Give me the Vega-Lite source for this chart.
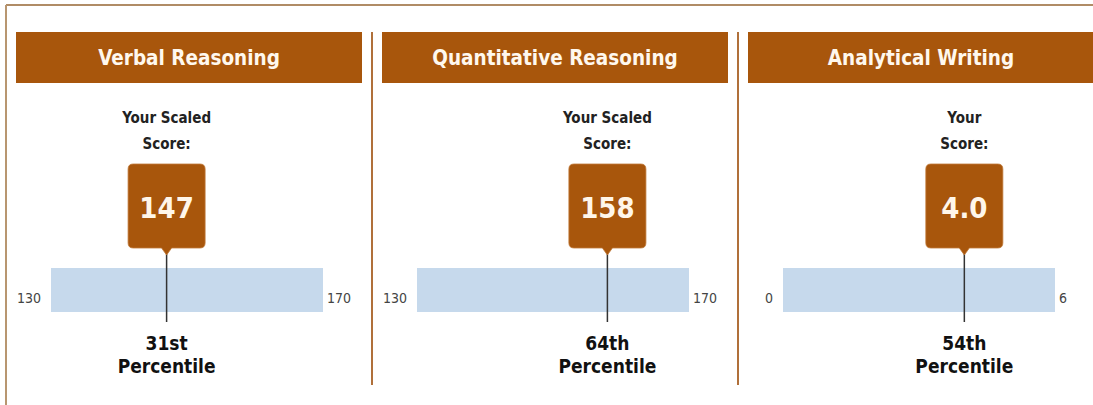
{
  "$schema": "https://vega.github.io/schema/vega-lite/v6.json",
  "padding": {"left": 5, "top": 0, "right": 0, "bottom": 0},
  "background": "white",
  "data": {"values": [
    {"subject": "Verbal Reasoning", "p1": "Your Scaled", "p2": "Score:", "score": 147, "scoreText": "147", "min": 130, "max": 170, "pct": "31st"},
    {"subject": "Quantitative Reasoning", "p1": "Your Scaled", "p2": "Score:", "score": 158, "scoreText": "158", "min": 130, "max": 170, "pct": "64th"},
    {"subject": "Analytical Writing", "p1": "Your", "p2": "Score:", "score": 4.0, "scoreText": "4.0", "min": 0, "max": 6, "pct": "54th"}
  ]},
  "facet": {"column": {"field": "subject", "type": "nominal", "header": null, "sort": ["Verbal Reasoning", "Quantitative Reasoning", "Analytical Writing"]}},
  "spacing": 94,
  "bounds": "flush",
  "resolve": {"scale": {"x": "independent"}},
  "spec": {
    "width": 272,
    "height": 400,
    "layer": [
      {
        "transform": [{"filter": "datum.subject === 'Verbal Reasoning'"}],
        "mark": {"type": "rule", "stroke": "#b08c66", "strokeWidth": 2},
        "encoding": {"x": {"value": -45}, "x2": {"value": 1042}, "y": {"value": 5}}
      },
      {
        "transform": [{"filter": "datum.subject === 'Verbal Reasoning'"}],
        "mark": {"type": "rule", "stroke": "#b89670", "strokeWidth": 2},
        "encoding": {"x": {"value": -45}, "y": {"value": 5}, "y2": {"value": 405}}
      },
      {
        "transform": [{"filter": "datum.subject !== 'Verbal Reasoning'"}],
        "mark": {"type": "rule", "stroke": "#b0703a", "strokeWidth": 2},
        "encoding": {"x": {"value": -45}, "y": {"value": 32}, "y2": {"value": 385}}
      },
      {
        "mark": {"type": "rect", "fill": "#a8560c"},
        "encoding": {"x": {"value": -35}, "x2": {"value": 311}, "y": {"value": 32}, "y2": {"value": 83}}
      },
      {
        "mark": {"type": "text", "fill": "#fff8ee", "fontSize": 20.5, "fontWeight": "bold", "align": "center", "baseline": "alphabetic"},
        "encoding": {"text": {"field": "subject"}, "x": {"value": 138}, "y": {"value": 65}}
      },
      {
        "mark": {"type": "rect", "fill": "#c6d9ec"},
        "encoding": {
          "x": {"field": "min", "type": "quantitative", "scale": {"zero": false, "nice": false}, "axis": null},
          "x2": {"field": "max"},
          "y": {"value": 268}, "y2": {"value": 312}
        }
      },
      {
        "mark": {"type": "rule", "stroke": "#333333", "strokeWidth": 1.5},
        "encoding": {"x": {"field": "score", "type": "quantitative"}, "y": {"value": 250}, "y2": {"value": 322}}
      },
      {
        "mark": {"type": "point", "filled": true, "fill": "#a8560c", "stroke": "#c07a3a", "strokeWidth": 0.8, "opacity": 1,
          "shape": "M-0.797,-1L0.797,-1Q0.917,-1 0.917,-0.88L0.917,0.88Q0.917,1 0.797,1L0.12,1L0,1.167L-0.12,1L-0.797,1Q-0.917,1 -0.917,0.88L-0.917,-0.88Q-0.917,-1 -0.797,-1Z",
          "size": 7056},
        "encoding": {"x": {"field": "score", "type": "quantitative"}, "y": {"value": 206}}
      },
      {
        "mark": {"type": "text", "fill": "#fff6ea", "fontSize": 29, "fontWeight": "bold", "align": "center", "baseline": "alphabetic"},
        "encoding": {"text": {"field": "scoreText"}, "x": {"field": "score", "type": "quantitative"}, "y": {"value": 218}}
      },
      {
        "mark": {"type": "text", "fill": "#222222", "fontSize": 15, "fontWeight": "bold", "align": "center", "baseline": "alphabetic"},
        "encoding": {"text": {"field": "p1"}, "x": {"field": "score", "type": "quantitative"}, "y": {"value": 123}}
      },
      {
        "mark": {"type": "text", "fill": "#222222", "fontSize": 15, "fontWeight": "bold", "align": "center", "baseline": "alphabetic"},
        "encoding": {"text": {"field": "p2"}, "x": {"field": "score", "type": "quantitative"}, "y": {"value": 149}}
      },
      {
        "mark": {"type": "text", "fill": "#444444", "fontSize": 14, "align": "right", "baseline": "alphabetic", "dx": -10},
        "encoding": {"text": {"field": "min", "type": "quantitative"}, "x": {"field": "min", "type": "quantitative"}, "y": {"value": 303}}
      },
      {
        "mark": {"type": "text", "fill": "#444444", "fontSize": 14, "align": "left", "baseline": "alphabetic", "dx": 4},
        "encoding": {"text": {"field": "max", "type": "quantitative"}, "x": {"field": "max", "type": "quantitative"}, "y": {"value": 303}}
      },
      {
        "mark": {"type": "text", "fill": "#111111", "fontSize": 19, "fontWeight": "bold", "align": "center", "baseline": "alphabetic"},
        "encoding": {"text": {"field": "pct"}, "x": {"field": "score", "type": "quantitative"}, "y": {"value": 350}}
      },
      {
        "mark": {"type": "text", "fill": "#111111", "fontSize": 19, "fontWeight": "bold", "align": "center", "baseline": "alphabetic"},
        "encoding": {"text": {"value": "Percentile"}, "x": {"field": "score", "type": "quantitative"}, "y": {"value": 373}}
      }
    ]
  },
  "config": {
    "view": {"stroke": null},
    "font": "DejaVu Sans Condensed, DejaVu Sans, sans-serif",
    "text": {"font": "DejaVu Sans Condensed, DejaVu Sans, sans-serif"}
  }
}
